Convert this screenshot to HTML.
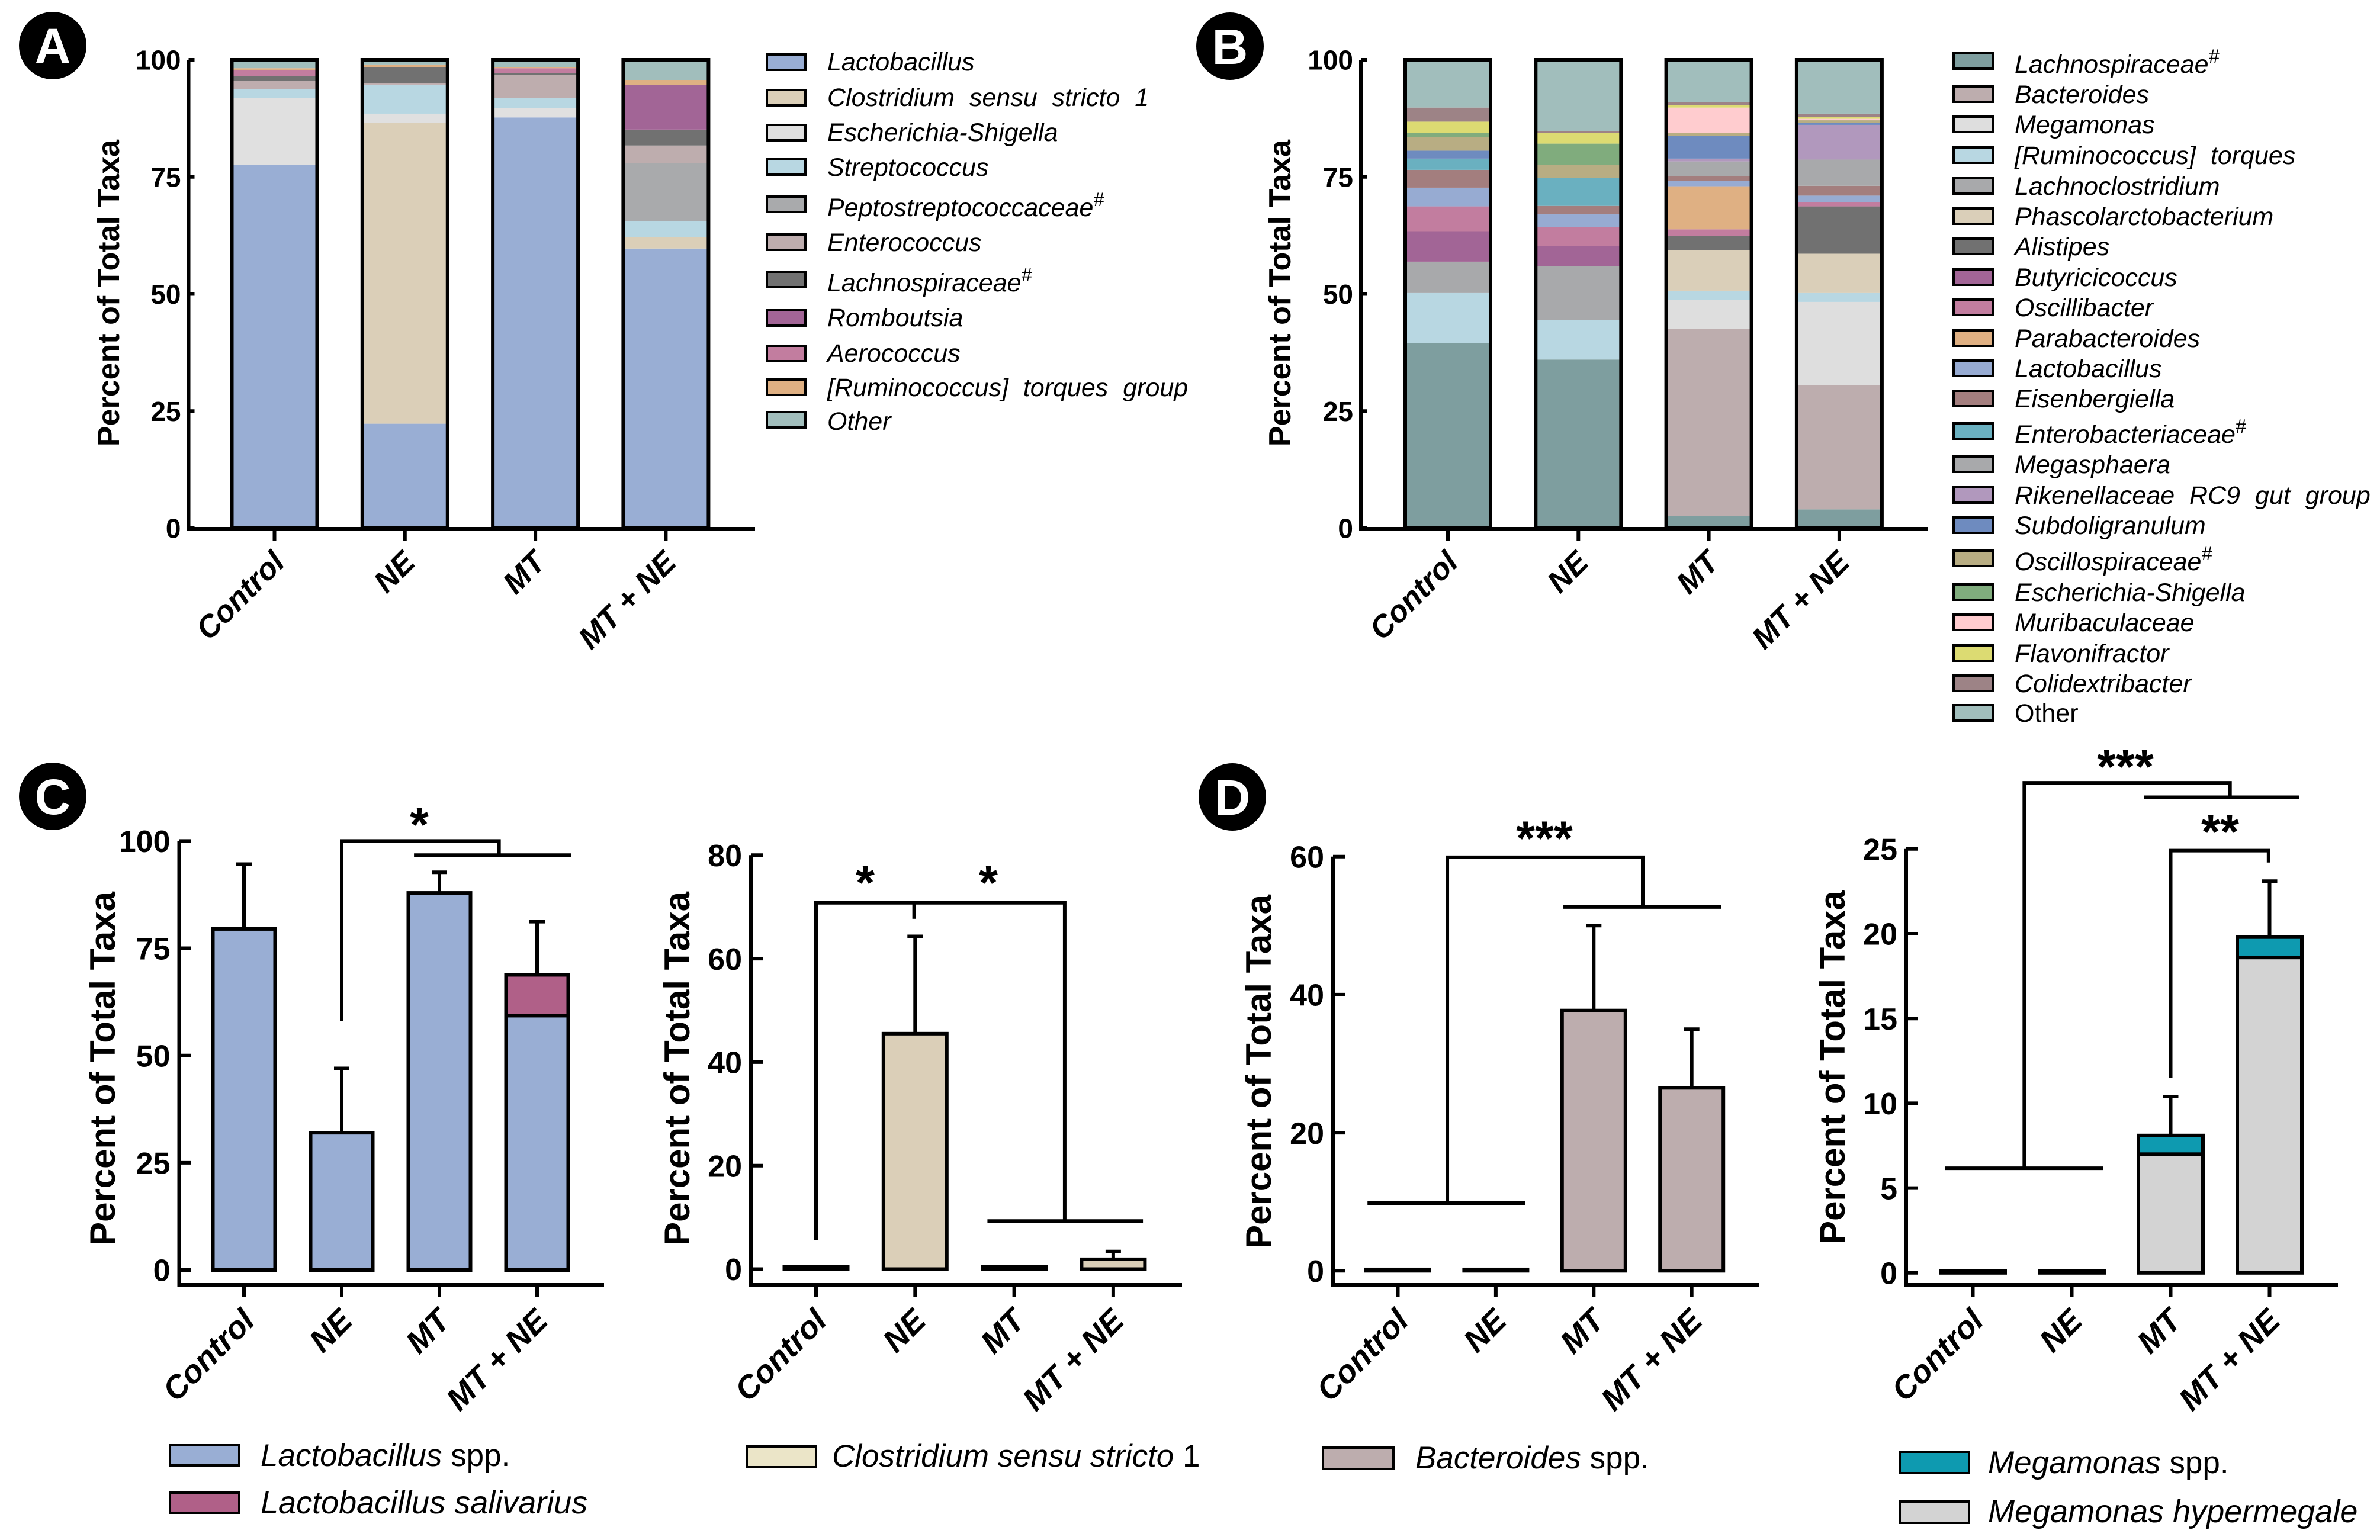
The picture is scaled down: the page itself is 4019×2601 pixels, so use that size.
<!DOCTYPE html>
<html lang="en">
<head>
<meta charset="utf-8">
<title>Percent of Total Taxa by treatment group</title>
<style>
html,body{margin:0;padding:0;background:#fff;}
svg{display:block;}
text{font-family:"Liberation Sans",sans-serif;fill:#000;}
.ttl{font-weight:700;text-anchor:middle;}
.lg{font-style:italic;font-size:43px;}
.lg2{font-size:54px;}
.lg3{font-size:53px;}
.it{font-style:italic;}
.wide{word-spacing:13px;}
.sw{stroke:#000;stroke-width:4;}
.star{font-weight:700;font-size:82px;text-anchor:middle;}
.pl{font-weight:700;font-size:84px;fill:#fff;text-anchor:middle;}
</style>
</head>
<body>
<svg id="fig" xmlns="http://www.w3.org/2000/svg" width="4019" height="2601" viewBox="0 0 4019 2601">
<rect width="4019" height="2601" fill="#fff"/>

<g>
<g><circle cx="89" cy="77" r="57" fill="#000"/><text class="pl" x="89" y="107">A</text></g>
<g><circle cx="2077" cy="78" r="57" fill="#000"/><text class="pl" x="2077" y="108">B</text></g>
<g><circle cx="89" cy="1345" r="57" fill="#000"/><text class="pl" x="89" y="1375">C</text></g>
<g><circle cx="2081" cy="1346" r="57" fill="#000"/><text class="pl" x="2081" y="1376">D</text></g>
</g>

<g>
<text class="ttl" font-size="52" transform="translate(201,495) rotate(-90)">Percent of Total Taxa</text>
<text class="ttl" font-size="52" transform="translate(2179,495) rotate(-90)">Percent of Total Taxa</text>
<text class="ttl" font-size="60" transform="translate(194,1805) rotate(-90)">Percent of Total Taxa</text>
<text class="ttl" font-size="60" transform="translate(1164,1805) rotate(-90)">Percent of Total Taxa</text>
<text class="ttl" font-size="60" transform="translate(2146,1810) rotate(-90)">Percent of Total Taxa</text>
<text class="ttl" font-size="60" transform="translate(3115,1803) rotate(-90)">Percent of Total Taxa</text>
</g>

<g>
<text class="star" x="708" y="1421">*</text>
<text class="star" x="1461" y="1519">*</text>
<text class="star" x="1669" y="1519">*</text>
<text class="star" x="2608" y="1444">***</text>
<text class="star" x="3589" y="1323">***</text>
<text class="star" x="3749" y="1433">**</text>
</g>

<g>
<g><rect class="sw" x="1295" y="92" width="65" height="26" fill="#99aed4"/><text class="lg" x="1397" y="119">Lactobacillus</text></g>
<g><rect class="sw" x="1295" y="152" width="65" height="26" fill="#dbcfb8"/><text class="lg wide" x="1397" y="179">Clostridium sensu stricto 1</text></g>
<g><rect class="sw" x="1295" y="211" width="65" height="26" fill="#e0e0e0"/><text class="lg" x="1397" y="238">Escherichia-Shigella</text></g>
<g><rect class="sw" x="1295" y="269" width="65" height="26" fill="#b8d7e2"/><text class="lg" x="1397" y="297">Streptococcus</text></g>
<g><rect class="sw" x="1295" y="332" width="65" height="26" fill="#a9aaac"/><text class="lg" x="1397" y="365">Peptostreptococcaceae<tspan dy="-17" font-size="32">#</tspan></text></g>
<g><rect class="sw" x="1295" y="396" width="65" height="26" fill="#beadae"/><text class="lg" x="1397" y="424">Enterococcus</text></g>
<g><rect class="sw" x="1295" y="459" width="65" height="26" fill="#717171"/><text class="lg" x="1397" y="492">Lachnospiraceae<tspan dy="-17" font-size="32">#</tspan></text></g>
<g><rect class="sw" x="1295" y="524" width="65" height="26" fill="#a26596"/><text class="lg" x="1397" y="551">Romboutsia</text></g>
<g><rect class="sw" x="1295" y="584" width="65" height="26" fill="#c27d9f"/><text class="lg" x="1397" y="611">Aerococcus</text></g>
<g><rect class="sw" x="1295" y="641" width="65" height="26" fill="#dfb083"/><text class="lg wide" x="1397" y="669">[Ruminococcus] torques group</text></g>
<g><rect class="sw" x="1295" y="696" width="65" height="26" fill="#a1bebc"/><text class="lg" x="1397" y="726">Other</text></g>
</g>

<g transform="translate(-1,-1)">
<g><rect class="sw" x="3300" y="91" width="67" height="26" fill="#7e9e9f"/><text class="lg" x="3403" y="124">Lachnospiraceae<tspan dy="-17" font-size="32">#</tspan></text></g>
<g><rect class="sw" x="3300" y="147" width="67" height="26" fill="#bdadae"/><text class="lg" x="3403" y="175">Bacteroides</text></g>
<g><rect class="sw" x="3300" y="198" width="67" height="26" fill="#dedede"/><text class="lg" x="3403" y="226">Megamonas</text></g>
<g><rect class="sw" x="3300" y="250" width="67" height="26" fill="#b8d7e2"/><text class="lg wide" x="3403" y="278">[Ruminococcus] torques</text></g>
<g><rect class="sw" x="3300" y="302" width="67" height="26" fill="#a8a9ab"/><text class="lg" x="3403" y="330">Lachnoclostridium</text></g>
<g><rect class="sw" x="3300" y="353" width="67" height="26" fill="#dacfb9"/><text class="lg" x="3403" y="381">Phascolarctobacterium</text></g>
<g><rect class="sw" x="3300" y="404" width="67" height="26" fill="#717171"/><text class="lg" x="3403" y="432">Alistipes</text></g>
<g><rect class="sw" x="3300" y="456" width="67" height="26" fill="#a26596"/><text class="lg" x="3403" y="484">Butyricicoccus</text></g>
<g><rect class="sw" x="3300" y="507" width="67" height="26" fill="#c27d9f"/><text class="lg" x="3403" y="535">Oscillibacter</text></g>
<g><rect class="sw" x="3300" y="559" width="67" height="26" fill="#dfb083"/><text class="lg" x="3403" y="587">Parabacteroides</text></g>
<g><rect class="sw" x="3300" y="610" width="67" height="26" fill="#97abd2"/><text class="lg" x="3403" y="638">Lactobacillus</text></g>
<g><rect class="sw" x="3300" y="661" width="67" height="26" fill="#a37e7e"/><text class="lg" x="3403" y="689">Eisenbergiella</text></g>
<g><rect class="sw" x="3300" y="716" width="67" height="26" fill="#6ab0c0"/><text class="lg" x="3403" y="749">Enterobacteriaceae<tspan dy="-17" font-size="32">#</tspan></text></g>
<g><rect class="sw" x="3300" y="772" width="67" height="26" fill="#a8a9ab"/><text class="lg" x="3403" y="800">Megasphaera</text></g>
<g><rect class="sw" x="3300" y="824" width="67" height="26" fill="#b198bd"/><text class="lg wide" x="3403" y="852">Rikenellaceae RC9 gut group</text></g>
<g><rect class="sw" x="3300" y="875" width="67" height="26" fill="#6e8bbf"/><text class="lg" x="3403" y="903">Subdoligranulum</text></g>
<g><rect class="sw" x="3300" y="931" width="67" height="26" fill="#b8ad83"/><text class="lg" x="3403" y="964">Oscillospiraceae<tspan dy="-17" font-size="32">#</tspan></text></g>
<g><rect class="sw" x="3300" y="988" width="67" height="26" fill="#80ac7d"/><text class="lg" x="3403" y="1016">Escherichia-Shigella</text></g>
<g><rect class="sw" x="3300" y="1039" width="67" height="26" fill="#ffcccf"/><text class="lg" x="3403" y="1067">Muribaculaceae</text></g>
<g><rect class="sw" x="3300" y="1091" width="67" height="26" fill="#dcdb72"/><text class="lg" x="3403" y="1119">Flavonifractor</text></g>
<g><rect class="sw" x="3300" y="1142" width="67" height="26" fill="#9d8386"/><text class="lg" x="3403" y="1170">Colidextribacter</text></g>
<g><rect class="sw" x="3300" y="1192" width="67" height="26" fill="#a1bebc"/><text class="lg" style="font-style:normal" x="3403" y="1220">Other</text></g>
</g>

<g>
<g><rect class="sw" x="287" y="2441" width="117" height="34" fill="#99aed4"/><text class="lg3" x="440" y="2476"><tspan class="it">Lactobacillus</tspan> spp.</text></g>
<g><rect class="sw" x="287" y="2521" width="117" height="34" fill="#b06088"/><text class="lg2 it" x="440" y="2556">Lactobacillus salivarius</text></g>
</g>
<g>
<g><rect class="sw" x="1261" y="2443" width="117" height="35" fill="#ebe5c8"/><text class="lg3" x="1405" y="2477"><tspan class="it">Clostridium sensu stricto</tspan> 1</text></g>
</g>
<g>
<g><rect class="sw" x="2234" y="2445" width="119" height="36" fill="#bdadae"/><text class="lg3" x="2390" y="2480"><tspan class="it">Bacteroides</tspan> spp.</text></g>
</g>
<g>
<g><rect class="sw" x="3208" y="2452" width="117" height="36" fill="#0e9ab0"/><text class="lg3" x="3357" y="2488"><tspan class="it">Megamonas</tspan> spp.</text></g>
<g><rect class="sw" x="3208" y="2536" width="117" height="36" fill="#d3d3d3"/><text class="lg2 it" x="3357" y="2571">Megamonas hypermegale</text></g>
</g>

<g id="charts"></g>
</svg>

<script>
// ---- Data (percent of total taxa) ----
const categories = ['Control', 'NE', 'MT', 'MT + NE'];

// Panel A: segment sizes per group, bottom to top
const aLactobacillus = [77.6, 22.3, 87.7, 59.7];
const aClostridium   = [0, 64.2, 0, 2.4];
const aEscherichia   = [14.3, 2.0, 2.0, 0];
const aStreptococcus = [1.8, 6.2, 2.2, 3.4];
const aPeptostrep    = [0, 0, 0, 12.4];
const aEnterococcus  = [1.8, 0.3, 4.9, 3.8];
const aLachnospira   = [1.0, 3.4, 0.3, 3.4];
const aRomboutsia    = [0, 0, 0, 9.5];
const aAerococcus    = [1.3, 0, 1.1, 0];
const aRuminococcus  = [0.4, 0.6, 0.2, 1.1];
const aOther         = [1.8, 1.0, 1.6, 4.3];

// Panel B: segment sizes per group, bottom to top
const bLachnospira  = [39.5, 36.0, 2.6, 4.0];
const bBacteroides  = [0, 0, 39.9, 26.5];
const bMegamonas    = [0, 0, 6.2, 17.8];
const bRuminococcus = [10.7, 8.5, 2.0, 1.9];
const bLachnoclost  = [6.7, 11.4, 0, 0];
const bPhascolarcto = [0, 0, 8.7, 8.4];
const bAlistipes    = [0, 0, 3.0, 10.1];
const bButyrici     = [6.5, 4.3, 0, 0];
const bOscillibact  = [5.3, 4.1, 1.4, 0.9];
const bParabact     = [0, 0, 9.2, 0];
const bLactobacillus= [4.0, 2.7, 1.1, 1.4];
const bEisenberg    = [3.8, 1.8, 1.1, 2.1];
const bEnterobact   = [2.4, 6.0, 0, 0];
const bMegasphaera  = [0, 0, 3.1, 5.6];
const bRikenella    = [0, 0, 0.6, 7.4];
const bSubdoligran  = [1.7, 0, 4.9, 0.4];
const bOscillospir  = [2.9, 2.7, 0.6, 0.6];
const bEscherichia  = [0.9, 4.6, 0, 0];
const bMuribacul    = [0, 0, 5.4, 0.3];
const bFlavonifr    = [2.4, 2.3, 0.5, 0.4];
const bColidextri   = [3.0, 0.4, 0.7, 0.7];
const bOther        = [10.2, 15.2, 9.0, 11.5];

// Panel C left
const cSpp        = [79.5, 32, 87.9, 59.3];
const cSalivarius = [0, 0, 0, 9.5];
const cLeftSd     = [15.1, 15, 4.8, 12.4];
const cLeftTicks  = [0, 25, 50, 75, 100];

// Panel C right
const cClostridium = [0.4, 45.5, 0.4, 1.9];
const cRightSd     = [0, 18.8, 0, 1.5];
const cRightTicks  = [0, 20, 40, 60, 80];

// Panel D left
const dBacteroides = [0.2, 0.2, 37.7, 26.5];
const dLeftSd      = [0, 0, 12.3, 8.5];
const dLeftTicks   = [0, 20, 40, 60];

// Panel D right
const dHypermegale = [0.1, 0.1, 7.0, 18.6];
const dMegamonas   = [0, 0, 1.1, 1.2];
const dRightSd     = [0, 0, 2.3, 3.3];
const dRightTicks  = [0, 5, 10, 15, 20, 25];

const stackedTicks = [0, 25, 50, 75, 100];

// ---- Chart layout and styling ----
const panels = [
  { id:'a', x0:463.5, step:220.3, y0:892, ppu:7.91, axisX:318.5, right:1275, baseY:893, barW:144, ticks:stackedTicks,
    tickFont:46, tickLen:10, tickGap:13, catFont:52, catDx:20, catDy:60, sw:6, outline:true,
    series:[['lactobacillus',aLactobacillus,'#99aed4'],['clostridium',aClostridium,'#dbcfb8'],['escherichia',aEscherichia,'#e0e0e0'],['streptococcus',aStreptococcus,'#b8d7e2'],['peptostreptococcaceae',aPeptostrep,'#a9aaac'],['enterococcus',aEnterococcus,'#beadae'],['lachnospiraceae',aLachnospira,'#717171'],['romboutsia',aRomboutsia,'#a26596'],['aerococcus',aAerococcus,'#c27d9f'],['ruminococcus',aRuminococcus,'#dfb083'],['other',aOther,'#a1bebc']] },
  { id:'b', x0:2445, step:220.3, y0:892, ppu:7.91, axisX:2298, right:3255, baseY:893, barW:144, ticks:stackedTicks,
    tickFont:46, tickLen:10, tickGap:13, catFont:52, catDx:20, catDy:60, sw:6, outline:true,
    series:[['lachnospiraceae',bLachnospira,'#7e9e9f'],['bacteroides',bBacteroides,'#bdadae'],['megamonas',bMegamonas,'#dedede'],['ruminococcus-torques',bRuminococcus,'#b8d7e2'],['lachnoclostridium',bLachnoclost,'#a8a9ab'],['phascolarctobacterium',bPhascolarcto,'#dacfb9'],['alistipes',bAlistipes,'#717171'],['butyricicoccus',bButyrici,'#a26596'],['oscillibacter',bOscillibact,'#c27d9f'],['parabacteroides',bParabact,'#dfb083'],['lactobacillus',bLactobacillus,'#97abd2'],['eisenbergiella',bEisenberg,'#a37e7e'],['enterobacteriaceae',bEnterobact,'#6ab0c0'],['megasphaera',bMegasphaera,'#a8a9ab'],['rikenellaceae',bRikenella,'#b198bd'],['subdoligranulum',bSubdoligran,'#6e8bbf'],['oscillospiraceae',bOscillospir,'#b8ad83'],['escherichia',bEscherichia,'#80ac7d'],['muribaculaceae',bMuribacul,'#ffcccf'],['flavonifractor',bFlavonifr,'#dcdb72'],['colidextribacter',bColidextri,'#9d8386'],['other',bOther,'#a1bebc']] },
  { id:'c-left', x0:412, step:165, y0:2145, ppu:7.246, axisX:302.5, right:1020, baseY:2170, barW:105, ticks:cLeftTicks,
    tickFont:52, tickLen:20, tickGap:15, catFont:54, catDx:21, catDy:64, sw:6, sd:cLeftSd, baseDash:[0,1],
    series:[['lactobacillus-spp',cSpp,'#99aed4'],['lactobacillus-salivarius',cSalivarius,'#b06088']],
    brackets:[[[1,58],[1,100],[2.61,100],[2.61,96.7]],[[1.74,96.7],[3.35,96.7]]] },
  { id:'c-right', x0:1378, step:167.3, y0:2143.5, ppu:8.74, axisX:1268, right:1996, baseY:2170, barW:107, ticks:cRightTicks,
    tickFont:52, tickLen:20, tickGap:15, catFont:54, catDx:21, catDy:64, sw:6, sd:cRightSd,
    series:[['clostridium',cClostridium,'#dbcfb8']],
    brackets:[[[0,5.6],[0,70.8],[2.51,70.8],[2.51,9.3]],[[1.73,9.3],[3.3,9.3]],[[0.99,70.8],[0.99,67.7]]] },
  { id:'d-left', x0:2360.5, step:165.4, y0:2146.3, ppu:11.66, axisX:2251, right:2970, baseY:2170, barW:107, ticks:dLeftTicks,
    tickFont:52, tickLen:20, tickGap:15, catFont:54, catDx:21, catDy:64, sw:6, sd:dLeftSd,
    series:[['bacteroides',dBacteroides,'#bdadae']],
    brackets:[[[0.505,9.8],[0.505,59.9],[2.5,59.9],[2.5,52.7]],[[1.69,52.7],[3.3,52.7]],[[-0.31,9.8],[1.3,9.8]]] },
  { id:'d-right', x0:3331.5, step:167, y0:2149.8, ppu:28.64, axisX:3219, right:3948, baseY:2170, barW:109, ticks:dRightTicks,
    tickFont:52, tickLen:20, tickGap:15, catFont:54, catDx:21, catDy:64, sw:6, sd:dRightSd,
    series:[['megamonas-hypermegale',dHypermegale,'#d3d3d3'],['megamonas-spp',dMegamonas,'#0e9ab0']],
    brackets:[[[0.52,6.17],[0.52,28.9],[2.6,28.9],[2.6,28.05]],[[1.73,28.05],[3.3,28.05]],[[-0.28,6.17],[1.32,6.17]],[[2,11.5],[2,24.9],[2.99,24.9],[2.99,24.2]]] }
];

const NS = 'http://www.w3.org/2000/svg';
const root = document.getElementById('charts');

function make(parent, tag, attrs) {
  const node = document.createElementNS(NS, tag);
  for (const k in attrs) node.setAttribute(k, attrs[k]);
  parent.appendChild(node);
  return node;
}
function xScale(p, i) { return p.x0 + i * p.step; }
function yScale(p, v) { return p.y0 - v * p.ppu; }

function drawLine(parent, x1, y1, x2, y2, w, name) {
  const el = make(parent, 'line', { x1, y1, x2, y2, stroke:'#000', 'stroke-width':w });
  
  
  return el;
}

function drawAxes(p, g) {
  const top = yScale(p, p.ticks[p.ticks.length - 1]);
  const yAxis = make(g, 'polyline', {
    points: `${p.axisX},${top} ${p.axisX},${p.baseY} ${p.right},${p.baseY}`,
    fill:'none', stroke:'#000', 'stroke-width':6, 'stroke-linejoin':'miter'
  });
  
  
  p.ticks.forEach(t => {
    const y = yScale(p, t);
    drawLine(g, p.axisX, y, p.axisX + p.tickLen, y, 6, `y-tick-${t}`);
    const label = make(g, 'text', {
      x: p.axisX - p.tickGap, y: y + p.tickFont * 0.36, 'font-size': p.tickFont,
      'font-weight':700, 'text-anchor':'end'
    });
    label.textContent = t;
    
    
  });
  categories.forEach((c, i) => {
    const x = xScale(p, i);
    drawLine(g, x, p.baseY, x, p.baseY + 21, 6, `x-tick-${i}`);
    const label = make(g, 'text', {
      'font-size': p.catFont, 'font-weight':700, 'font-style':'italic', 'text-anchor':'end',
      transform: `translate(${x + p.catDx},${p.baseY + p.catDy}) rotate(-45)`
    });
    label.textContent = c;
    
    
  });
}

function drawBars(p, g) {
  categories.forEach((c, i) => {
    const x = xScale(p, i) - p.barW / 2;
    let cum = 0;
    p.series.forEach(([name, values, color]) => {
      const v = values[i];
      if (!v) return;
      const yTop = yScale(p, cum + v);
      const attrs = { x, y: yTop, width: p.barW, height: v * p.ppu, fill: color };
      if (!p.outline) { attrs.stroke = '#000'; attrs['stroke-width'] = p.sw; }
      const seg = make(g, 'rect', attrs);
      
      
      cum += v;
    });
    if (p.outline) {
      const frame = make(g, 'rect', { x, y: yScale(p, cum), width: p.barW, height: cum * p.ppu,
        fill:'none', stroke:'#000', 'stroke-width': p.sw });
      
      
    }
    if (p.baseDash && p.baseDash.includes(i)) {
      drawLine(g, x - p.sw / 2, p.y0, x + p.barW + p.sw / 2, p.y0, 8, `bar-base-${i}`);
    }
    if (p.sd && p.sd[i]) {
      const cx = xScale(p, i);
      const yHi = yScale(p, cum + p.sd[i]);
      drawLine(g, cx, yScale(p, cum), cx, yHi, 6, `error-bar-${i}`);
      drawLine(g, cx - 13, yHi, cx + 13, yHi, 6, `error-cap-${i}`);
    }
  });
}

function drawBrackets(p, g) {
  (p.brackets || []).forEach((pts, n) => {
    const line = make(g, 'polyline', {
      points: pts.map(([c, v]) => `${xScale(p, c)},${yScale(p, v)}`).join(' '),
      fill:'none', stroke:'#000', 'stroke-width':6
    });
    
    
  });
}

panels.forEach(p => {
  const g = make(root, 'g', {});
  
  
  drawBars(p, g);
  drawAxes(p, g);
  drawBrackets(p, g);
});
</script>
</body>
</html>
